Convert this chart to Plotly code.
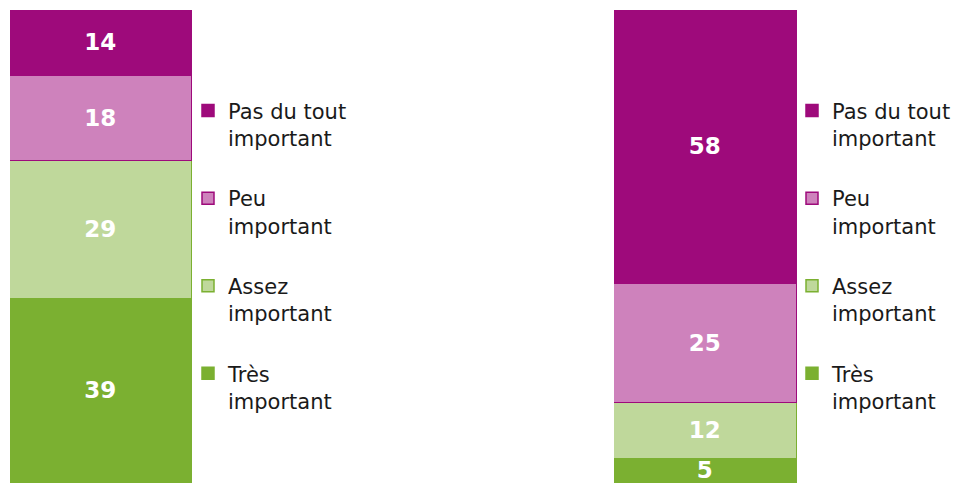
import plotly.graph_objects as go
from plotly.subplots import make_subplots

# Données
categories = ["Très<br>important", "Assez<br>important", "Peu<br>important", "Pas du tout<br>important"]
gauche = [39, 29, 18, 14]
droite = [5, 12, 25, 58]

couleurs = ["#7BB031", "#BFD89B", "#CE82BC", "#9E0A7B"]
bordures = ["#7BB031", "#7BB031", "#9E0A7B", "#9E0A7B"]

W, H = 963, 483

fig = make_subplots(rows=1, cols=2)

for col, (valeurs, leg) in enumerate([(gauche, "legend"), (droite, "legend2")], start=1):
    for i, cat in enumerate(categories):
        fig.add_trace(go.Bar(
            x=["a"],
            y=[valeurs[i]],
            name=cat,
            legend=leg,
            legendgroup=f"{leg}{i}",
            legendrank=1000 - i,  # "Pas du tout" en haut de la légende
            marker=dict(color=couleurs[i], line=dict(color=bordures[i], width=1.5)),
            text=[valeurs[i]],
            textposition="inside",
            insidetextanchor="middle",
            textangle=0,
            constraintext="none",
            cliponaxis=False,
            textfont=dict(family="DejaVu Sans", size=23, color="white", weight="bold"),
            hoverinfo="skip",
        ), row=1, col=col)

leg_style = dict(xanchor="left", yanchor="top", y=0.83,
                 traceorder="grouped", tracegroupgap=30, valign="top",
                 bgcolor="rgba(0,0,0,0)", font=dict(size=21))

fig.update_layout(
    width=W, height=H,
    barmode="stack",
    bargap=0,
    margin=dict(l=0, r=0, t=10, b=0),
    paper_bgcolor="white",
    plot_bgcolor="white",
    font=dict(family="DejaVu Sans", size=21, color="#1a1a1a"),
    xaxis=dict(domain=[10 / W, 192 / W], visible=False),
    xaxis2=dict(domain=[614 / W, 797 / W], visible=False),
    yaxis=dict(range=[0, 100], visible=False),
    yaxis2=dict(range=[0, 100], visible=False),
    legend=dict(x=188 / W, **leg_style),
    legend2=dict(x=792 / W, **leg_style),
)

fig.write_html("out.html", config={"displayModeBar": False},
               post_script="document.body.style.margin='0';")
